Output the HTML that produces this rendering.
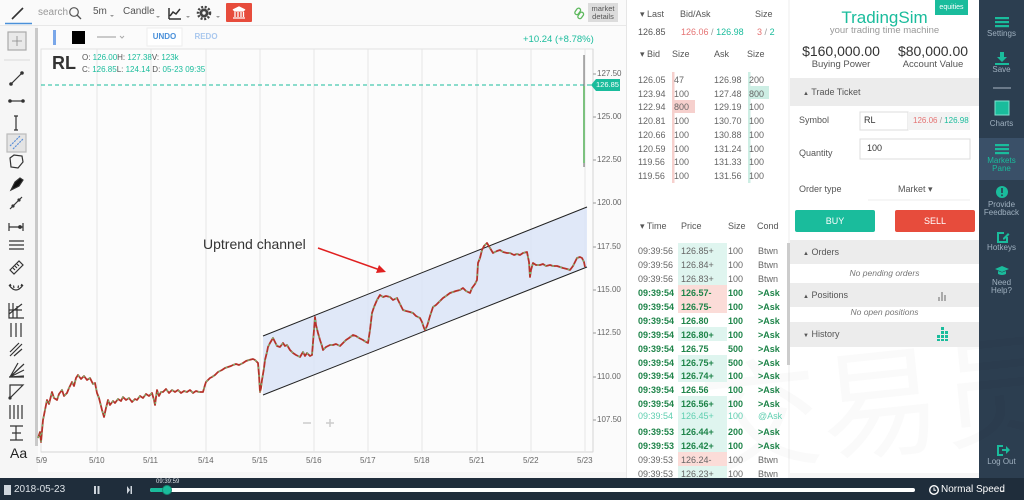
<!DOCTYPE html>
<html><head><meta charset="utf-8">
<style>
*{margin:0;padding:0;box-sizing:border-box}
html,body{width:1024px;height:500px;overflow:hidden;background:#f6f6f6;font-family:"Liberation Sans","Noto Sans CJK SC",sans-serif;color:#555}
.t{position:absolute;white-space:nowrap;line-height:1}
.f8{font-size:8px}.f9{font-size:9px}.f10{font-size:10px}
.g{color:#1abc9c}.r{color:#e57373}
.b{font-weight:bold}
.dg{color:#1e8449;font-weight:bold}
.gr{color:#666}
.lg{color:#5fcfb0}
.c{text-align:center}
.box{position:absolute}
.sb{color:#9fb0bf;font-size:8px}
.wrap{position:absolute;left:0;top:0;width:1024px;height:478px;overflow:hidden}
</style></head><body>

<!-- backgrounds -->
<div class="box" style="left:0;top:0;width:626px;height:26px;background:#fafafa;border-bottom:1px solid #e8e8e8"></div>
<div class="box" style="left:38px;top:26px;width:588px;height:446px;background:#fbfbfb"></div>
<div class="box" style="left:627px;top:0;width:161px;height:478px;background:#fff"></div>
<div class="box" style="left:790px;top:0;width:189px;height:473px;background:#fff"></div>
<div class="box" style="left:979px;top:0;width:45px;height:478px;background:#2c3e50"></div>
<div class="box" style="left:979px;top:138px;width:45px;height:42px;background:#3a5068"></div>
<div class="box" style="left:0;top:478px;width:1024px;height:22px;background:#1f2d3b"></div>

<!-- watermark -->
<div class="t" style="left:700px;top:340px;font-size:120px;color:rgba(0,0,0,0.018);transform:rotate(-6deg)">交易员说</div>

<svg class="box" style="left:0;top:0" width="1024" height="500" xmlns="http://www.w3.org/2000/svg">
 <!-- left gray scroll bar -->
 <rect x="35" y="28" width="3" height="418" fill="#c9c9c9"/>
 <!-- chart frame -->
 <rect x="41" y="49" width="552" height="403" fill="#fcfcfc" stroke="#e2e2e2"/>
 <line x1="593" y1="49" x2="593" y2="452" stroke="#d5d5d5"/>
 <line x1="41" y1="452" x2="593" y2="452" stroke="#d5d5d5"/>
 <!-- grid -->
 <g stroke="#e6e6e6" stroke-width="1">
  <line x1="97" y1="49" x2="97" y2="452"/><line x1="151" y1="49" x2="151" y2="452"/>
  <line x1="206" y1="49" x2="206" y2="452"/><line x1="260" y1="49" x2="260" y2="452"/>
  <line x1="314" y1="49" x2="314" y2="452"/><line x1="368" y1="49" x2="368" y2="452"/>
  <line x1="422" y1="49" x2="422" y2="452"/><line x1="477" y1="49" x2="477" y2="452"/>
  <line x1="531" y1="49" x2="531" y2="452"/><line x1="585" y1="49" x2="585" y2="452"/>
 </g>
 <!-- axis ticks -->
 <g stroke="#999"><line x1="593" y1="74" x2="596" y2="74"/><line x1="593" y1="117" x2="596" y2="117"/><line x1="593" y1="160" x2="596" y2="160"/><line x1="593" y1="203" x2="596" y2="203"/><line x1="593" y1="247" x2="596" y2="247"/><line x1="593" y1="290" x2="596" y2="290"/><line x1="593" y1="333" x2="596" y2="333"/><line x1="593" y1="377" x2="596" y2="377"/><line x1="593" y1="420" x2="596" y2="420"/></g>
 <!-- current price dashed -->
 <line x1="41" y1="85" x2="591" y2="85" stroke="#1abc9c" stroke-dasharray="4 3" stroke-width="1"/>
 <polygon points="591,85 596,79 620,79 620,91 596,91" fill="#1abc9c"/>
 <!-- channel -->
 <polygon points="263,336 587,207 587,267 263,395" fill="#dbe4f7" fill-opacity="0.85"/>
 <line x1="263" y1="336" x2="587" y2="207" stroke="#222" stroke-width="1"/>
 <line x1="263" y1="395" x2="587" y2="267" stroke="#222" stroke-width="1"/>
 <!-- price series -->
 <polyline fill="none" stroke="#b5332a" stroke-width="1.8" stroke-linejoin="round" points="38,438 40,432 41,442 43,420 45,410 47,400 49,404 52,392 54,398 57,400 59,394 62,390 64,396 67,393 69,388 72,382 74,386 76,378 78,375 81,379 84,376 87,380 90,378 93,384 95,383 97,393 99,398 100,402 102,410 104,417 106,408 108,400 110,405 113,401 115,403 118,399 121,401 123,397 126,400 129,398 132,402 135,399 137,400 140,396 143,398 146,394 149,396 152,393 154,400 155,405 157,390 159,396 161,392 163,392 166,389 169,393 172,390 175,392 178,390 181,393 184,391 187,392 190,390 193,393 196,391 199,392 203,392 205,385 206,382 208,380 210,378 212,377 215,375 218,372 222,370 225,368 228,367 231,366 233,365 236,364 239,365 243,363 246,361 249,360 253,359 255,360 258,363 259,375 260,392 261,388 262,380 264,368 265,360 267,352 268,347 270,343 273,338 275,342 277,346 280,347 283,343 285,346 287,345 290,350 293,353 296,355 298,356 300,357 303,352 305,356 307,353 310,356 312,355 314,330 315,317 316,325 318,333 320,340 322,346 323,350 326,347 330,345 333,345 336,344 340,346 343,343 346,340 349,338 353,335 356,336 359,338 363,340 366,342 368,343 370,330 372,313 374,307 377,300 380,295 383,297 386,296 390,297 393,300 397,298 400,304 403,310 406,311 410,312 413,313 416,316 420,318 422,322 424,328 425,330 427,326 428,323 430,316 433,307 436,305 440,301 443,298 446,296 450,293 453,292 456,291 460,290 463,288 466,291 470,293 472,288 475,284 477,280 478,263 480,258 482,250 484,246 487,243 490,248 493,253 497,251 500,250 503,252 507,253 510,253 514,255 517,254 520,255 523,253 527,252 529,262 530,277 531,270 533,263 536,265 540,265 543,264 546,266 550,265 553,266 557,266 560,267 563,268 567,269 570,270 573,266 575,262 577,258 580,257 582,258 584,262 585,267"/>
 <polyline fill="none" stroke="#6fbf73" stroke-width="1.2" stroke-dasharray="2 6" points="38,438 40,432 41,442 43,420 45,410 47,400 49,404 52,392 54,398 57,400 59,394 62,390 64,396 67,393 69,388 72,382 74,386 76,378 78,375 81,379 84,376 87,380 90,378 93,384 95,383 97,393 99,398 100,402 102,410 104,417 106,408 108,400 110,405 113,401 115,403 118,399 121,401 123,397 126,400 129,398 132,402 135,399 137,400 140,396 143,398 146,394 149,396 152,393 154,400 155,405 157,390 159,396 161,392 163,392 166,389 169,393 172,390 175,392 178,390 181,393 184,391 187,392 190,390 193,393 196,391 199,392 203,392 205,385 206,382 208,380 210,378 212,377 215,375 218,372 222,370 225,368 228,367 231,366 233,365 236,364 239,365 243,363 246,361 249,360 253,359 255,360 258,363 259,375 260,392 261,388 262,380 264,368 265,360 267,352 268,347 270,343 273,338 275,342 277,346 280,347 283,343 285,346 287,345 290,350 293,353 296,355 298,356 300,357 303,352 305,356 307,353 310,356 312,355 314,330 315,317 316,325 318,333 320,340 322,346 323,350 326,347 330,345 333,345 336,344 340,346 343,343 346,340 349,338 353,335 356,336 359,338 363,340 366,342 368,343 370,330 372,313 374,307 377,300 380,295 383,297 386,296 390,297 393,300 397,298 400,304 403,310 406,311 410,312 413,313 416,316 420,318 422,322 424,328 425,330 427,326 428,323 430,316 433,307 436,305 440,301 443,298 446,296 450,293 453,292 456,291 460,290 463,288 466,291 470,293 472,288 475,284 477,280 478,263 480,258 482,250 484,246 487,243 490,248 493,253 497,251 500,250 503,252 507,253 510,253 514,255 517,254 520,255 523,253 527,252 529,262 530,277 531,270 533,263 536,265 540,265 543,264 546,266 550,265 553,266 557,266 560,267 563,268 567,269 570,270 573,266 575,262 577,258 580,257 582,258 584,262 585,267"/>
 <!-- last big candle -->
 <line x1="584" y1="55" x2="584" y2="167" stroke="#666" stroke-width="1"/>
 <line x1="584" y1="86" x2="584" y2="163" stroke="#7cc27f" stroke-width="2"/>
 <!-- arrow -->
 <line x1="318" y1="248" x2="380" y2="270" stroke="#e02020" stroke-width="1.5"/>
 <polygon points="386,272 376,273 379,265" fill="#e02020"/>
 <!-- zoom controls -->
 <line x1="303" y1="423" x2="311" y2="423" stroke="#ccc" stroke-width="1.5"/>
 <line x1="326" y1="423" x2="334" y2="423" stroke="#ccc" stroke-width="1.5"/><line x1="330" y1="419" x2="330" y2="427" stroke="#ccc" stroke-width="1.5"/>

 <!-- top toolbar icons -->
 <line x1="12" y1="19" x2="23" y2="8" stroke="#333" stroke-width="1.6"/>
 <line x1="5" y1="23.5" x2="32" y2="23.5" stroke="#4a90d9" stroke-width="1.5"/>
 <circle cx="74" cy="12" r="4.3" fill="none" stroke="#555" stroke-width="1.2"/><line x1="77" y1="15" x2="81" y2="19" stroke="#555" stroke-width="1.3"/>
 <path d="M169 19 H181 M169 19 V8 M170 16 L173 12 L176 14 L180 9" fill="none" stroke="#333" stroke-width="1.5"/>
 <circle cx="204" cy="13" r="4.5" fill="#444"/><circle cx="204" cy="13" r="6" fill="none" stroke="#444" stroke-width="2.5" stroke-dasharray="2 1.6"/><circle cx="204" cy="13" r="1.7" fill="#fafafa"/>
 <g fill="#999"><path d="M110 15 l2 2 l2 -2z"/><path d="M156 16 l2 2 l2 -2z"/><path d="M186 16 l2 2 l2 -2z"/><path d="M216 16 l2 2 l2 -2z"/></g>
 <rect x="226" y="3" width="26" height="19" rx="1" fill="#e74c3c"/>
 <path d="M233 10 L239 7 L245 10 Z M234 11 h10 M235 12 v5 M238 12 v5 M241 12 v5 M243.5 12 v5 M233 18 h12" fill="#fff" stroke="#fff" stroke-width="1.3"/>
 <!-- link icons -->
 <g fill="none" stroke="#5cb85c" stroke-width="1.3">
  <rect x="576" y="8" width="4" height="7" rx="2" transform="rotate(35 578 11)"/><rect x="579" y="12" width="4" height="7" rx="2" transform="rotate(35 581 15)"/>
  <rect x="959" y="86" width="4" height="7" rx="2" transform="rotate(35 961 89)"/><rect x="962" y="90" width="4" height="7" rx="2" transform="rotate(35 964 93)"/>
  <rect x="959" y="247" width="4" height="7" rx="2" transform="rotate(35 961 250)"/><rect x="962" y="251" width="4" height="7" rx="2" transform="rotate(35 964 254)"/>
  <rect x="959" y="290" width="4" height="7" rx="2" transform="rotate(35 961 293)"/><rect x="962" y="294" width="4" height="7" rx="2" transform="rotate(35 964 297)"/>
 </g>
 <!-- chart header row -->
 <rect x="53" y="30" width="3" height="15" fill="#7aa7e9"/>
 <rect x="72" y="31" width="13" height="13" fill="#000"/>
 <line x1="97" y1="37" x2="116" y2="37" stroke="#999"/><path d="M120 36 l2 2 l2 -2" fill="none" stroke="#aaa"/>
 <rect x="147" y="28" width="35" height="18" fill="#fff" stroke="#eee"/>

 <!-- left toolbar -->
 <g stroke="#333" stroke-width="1.2" fill="none">
  <rect x="8" y="32" width="18" height="18" fill="#e9e9e9" stroke="#aaa"/>
  <path d="M17 36 V46 M12 41 H22" stroke="#888" stroke-width="0.8"/>
  <line x1="4" y1="60" x2="30" y2="60" stroke="#e0e0e0"/>
  <line x1="11" y1="84" x2="22" y2="73"/><circle cx="11" cy="84" r="1.2" fill="#333"/><circle cx="22" cy="73" r="1.2" fill="#333"/>
  <line x1="10" y1="101" x2="23" y2="101"/><circle cx="10" cy="101" r="1.2" fill="#333"/><circle cx="23" cy="101" r="1.2" fill="#333"/>
  <line x1="16" y1="116" x2="16" y2="130"/><path d="M14 116 h4 M14 130 h4"/>
  <rect x="7" y="134" width="19" height="18" fill="#e4e4e4" stroke="#bbb"/>
  <path d="M10 146 L20 136 M13 149 L23 139" stroke="#5a8fd8" stroke-dasharray="2 1"/>
  <path d="M10 158 L14 155 L22 156 L23 162 L18 168 L11 167 Z"/>
  <path d="M11 190 L15 182 L20 178 L23 180 L19 186 Z" fill="#111"/>
  <line x1="10" y1="209" x2="22" y2="197"/><circle cx="13" cy="206" r="1" fill="#333"/><circle cx="19" cy="200" r="1" fill="#333"/>
  <path d="M9 227 H23 M9 223 V231 M23 223 V231"/><circle cx="20" cy="227" r="1.3" fill="#333"/>
  <path d="M9 241 H24 M9 245 H24 M9 249 H24"/>
  <path d="M10 270 L19 261 L23 265 L14 274 Z M13 268 l2 2 M15 266 l2 2 M17 264 l2 2"/>
  <path d="M9 285 Q16 295 23 285 M11 286 l-1 -2 M14 288 l-0.5 -2.5 M18 288 l0.5 -2.5 M21 286 l1 -2"/>
  <path d="M9 303 V318 H24 M13 303 V318 M17 306 V318 M9 314 L22 304 M9 310 H22"/>
  <path d="M11 323 V337 M16 323 V337 M21 323 V337"/>
  <path d="M10 356 L22 344 M12 350 L19 343 M14 356 L22 349 M10 352 L16 346"/>
  <path d="M10 377 L24 364 M10 377 L24 370 M10 377 L24 376 M10 377 L18 363 M9 377 H24"/>
  <path d="M10 385 H23 L10 398 Z"/><circle cx="10" cy="398" r="1" fill="#333"/>
  <path d="M10 405 V419 M14 405 V419 M18 405 V419 M22 405 V419"/>
  <path d="M10 426 H23 M16 426 V440 M10 440 H23 M12 433 H21"/>
 </g>

 <!-- order book size bars -->
 <rect x="672" y="72" width="2.5" height="111" fill="#f6d0cd"/>
 <rect x="672" y="100" width="23" height="13" fill="#f6d0cd"/>
 <rect x="748" y="72" width="2.5" height="111" fill="#cdeee4"/>
 <rect x="748" y="86" width="21" height="13" fill="#cdeee4"/>
 <!-- scrollbar T&S -->
 <rect x="787" y="243" width="3" height="122" fill="#ccc"/>
 <rect x="626" y="0" width="1" height="478" fill="#e6e6e6"/>

 <!-- trading panel boxes -->
 <rect x="935" y="0" width="33" height="15" fill="#1abc9c"/>
 <rect x="790" y="78" width="189" height="28" fill="#ececec"/>
 <rect x="860" y="112" width="48" height="18" fill="#fff" stroke="#ddd"/>
 <rect x="908" y="112" width="62" height="18" fill="#f3f3f3"/>
 <rect x="860" y="139" width="110" height="20" fill="#fff" stroke="#ddd"/>
 <line x1="868" y1="200" x2="970" y2="200" stroke="#eee"/>
 <rect x="795" y="210" width="80" height="22" rx="2" fill="#1abc9c"/>
 <rect x="895" y="210" width="80" height="22" rx="2" fill="#e74c3c"/>
 <rect x="790" y="240" width="189" height="24" fill="#ececec"/>
 <rect x="790" y="283" width="189" height="24" fill="#ececec"/>
 <rect x="790" y="322" width="189" height="25" fill="#ececec"/>
 <g fill="#aaa"><rect x="938" y="297" width="2" height="4"/><rect x="941" y="292" width="2" height="9"/><rect x="944" y="295" width="2" height="6"/></g>
 <g fill="#1abc9c"><rect x="937" y="335" width="3" height="3"/><rect x="941" y="335" width="3" height="3"/><rect x="945" y="335" width="3" height="3"/><rect x="941" y="331" width="3" height="3"/><rect x="945" y="331" width="3" height="3"/><rect x="941" y="327" width="3" height="3"/><rect x="937" y="339" width="3" height="2"/><rect x="941" y="339" width="3" height="2"/><rect x="945" y="339" width="3" height="2"/></g>

 <!-- sidebar icons -->
 <g fill="#1abc9c">
  <rect x="995" y="17" width="14" height="2.2"/><rect x="995" y="21" width="14" height="2.2"/><rect x="995" y="25" width="14" height="2.2"/>
  <path d="M1000 52 h4 v5 h3 l-5 5 l-5 -5 h3 z"/><rect x="995" y="63" width="14" height="2"/>
  <rect x="995" y="101" width="14" height="14" fill="#1abc9c" stroke="#7fe3cf"/>
  <rect x="995" y="144" width="14" height="2.2"/><rect x="995" y="148" width="14" height="2.2"/><rect x="995" y="152" width="14" height="2.2"/>
  <circle cx="1002" cy="192" r="6"/>
  <path d="M997 232 h7 v2 h-5 v7 h7 v-4 h2 v6 h-11 z M1003 238 l5 -5 l1.5 1.5 l-5 5 h-1.5z"/>
  <path d="M995 269 l7 -3 l7 3 l-7 3 z M998 271 v3 q4 2 8 0 v-3 l-4 1.5 z"/>
  <path d="M997 445 h6 v2 h-4 v7 h4 v2 h-6 z M1002 449 h4 v-3 l4 4 l-4 4 v-3 h-4z"/>
 </g>
 <rect x="1001.2" y="188" width="1.6" height="5" fill="#2c3e50"/><rect x="1001.2" y="194.5" width="1.6" height="1.6" fill="#2c3e50"/>
 <line x1="993" y1="88" x2="1011" y2="88" stroke="#aab7c4" stroke-width="1"/>
</svg>

<!-- top bar texts -->
<div class="t f10" style="left:38px;top:8px;color:#999">search</div>
<div class="t f10" style="left:93px;top:7px;color:#555">5m</div>
<div class="t f10" style="left:123px;top:7px;color:#555">Candle</div>
<div class="box" style="left:588px;top:3px;width:30px;height:19px;background:#dcdcdc"></div>
<div class="t c" style="left:588px;top:5px;width:30px;font-size:7.5px;color:#555;line-height:8px">market<br>details</div>

<!-- chart header -->
<div class="t b" style="left:147px;top:33px;width:35px;text-align:center;font-size:8px;color:#4a90d9">UNDO</div>
<div class="t b" style="left:190px;top:33px;width:32px;text-align:center;font-size:8px;color:#aac8ee">REDO</div>
<div class="t" style="left:523px;top:35px;font-size:9.5px;color:#1abc9c">+10.24 (+8.78%)</div>

<!-- chart labels -->
<div class="t b" style="left:52px;top:54px;font-size:18px;color:#333">RL</div>
<div class="t f8" style="left:82px;top:54px;color:#555">O: <span class="g">126.00</span>H: <span class="g">127.38</span>V: <span class="g">123k</span></div>
<div class="t f8" style="left:82px;top:66px;color:#555">C: <span class="g">126.85</span>L: <span class="g">124.14</span> D: <span class="g">05-23 09:35</span></div>
<div class="t" style="left:203px;top:237px;font-size:14px;color:#333">Uptrend channel</div>

<!-- price axis -->
<div class="t f8" style="left:597px;top:70px;color:#666">127.50</div>
<div class="t" style="left:596px;top:81px;color:#fff;font-size:7.5px">126.85</div>
<div class="t f8" style="left:597px;top:113px;color:#666">125.00</div>
<div class="t f8" style="left:597px;top:156px;color:#666">122.50</div>
<div class="t f8" style="left:597px;top:199px;color:#666">120.00</div>
<div class="t f8" style="left:597px;top:243px;color:#666">117.50</div>
<div class="t f8" style="left:597px;top:286px;color:#666">115.00</div>
<div class="t f8" style="left:597px;top:329px;color:#666">112.50</div>
<div class="t f8" style="left:597px;top:373px;color:#666">110.00</div>
<div class="t f8" style="left:597px;top:416px;color:#666">107.50</div>

<!-- date axis -->
<div class="t f8" style="left:36px;top:457px;color:#666">5/9</div>
<div class="t f8" style="left:89px;top:457px;color:#666">5/10</div>
<div class="t f8" style="left:143px;top:457px;color:#666">5/11</div>
<div class="t f8" style="left:198px;top:457px;color:#666">5/14</div>
<div class="t f8" style="left:252px;top:457px;color:#666">5/15</div>
<div class="t f8" style="left:306px;top:457px;color:#666">5/16</div>
<div class="t f8" style="left:360px;top:457px;color:#666">5/17</div>
<div class="t f8" style="left:414px;top:457px;color:#666">5/18</div>
<div class="t f8" style="left:469px;top:457px;color:#666">5/21</div>
<div class="t f8" style="left:523px;top:457px;color:#666">5/22</div>
<div class="t f8" style="left:577px;top:457px;color:#666">5/23</div>

<div class="t" style="left:10px;top:446px;font-size:14px;color:#222">Aa</div>

<!-- market data -->
<div class="t f9" style="left:640px;top:10px;color:#555">▾ Last</div>
<div class="t f9" style="left:680px;top:10px;color:#555">Bid/Ask</div>
<div class="t f9" style="left:755px;top:10px;color:#555">Size</div>
<div class="t f9" style="left:638px;top:28px;color:#555">126.85</div>
<div class="t f9" style="left:681px;top:28px"><span class="r">126.06</span> <span style="color:#999">/</span> <span class="g">126.98</span></div>
<div class="t f9" style="left:757px;top:28px"><span class="r">3</span> <span style="color:#999">/</span> <span class="g">2</span></div>
<div class="t f9" style="left:640px;top:50px;color:#555">▾ Bid</div>
<div class="t f9" style="left:672px;top:50px;color:#555">Size</div>
<div class="t f9" style="left:714px;top:50px;color:#555">Ask</div>
<div class="t f9" style="left:747px;top:50px;color:#555">Size</div>

<div class="t f9 gr" style="left:638px;top:74px;line-height:13.7px">126.05<br>123.94<br>122.94<br>120.81<br>120.66<br>120.59<br>119.56<br>119.56</div>
<div class="t f9 gr" style="left:674px;top:74px;line-height:13.7px">47<br>100<br>800<br>100<br>100<br>100<br>100<br>100</div>
<div class="t f9 gr" style="left:714px;top:74px;line-height:13.7px">126.98<br>127.48<br>129.19<br>130.70<br>130.88<br>131.24<br>131.33<br>131.56</div>
<div class="t f9 gr" style="left:749px;top:74px;line-height:13.7px">200<br>800<br>100<br>100<br>100<br>100<br>100<br>100</div>

<div class="t f9" style="left:640px;top:222px;color:#555">▾ Time</div>
<div class="t f9" style="left:681px;top:222px;color:#555">Price</div>
<div class="t f9" style="left:728px;top:222px;color:#555">Size</div>
<div class="t f9" style="left:757px;top:222px;color:#555">Cond</div>

<div class="wrap">
<!-- T&S price backgrounds -->
<div class="box" style="left:678px;top:243px;width:49px;height:42px;background:#dff5ef"></div>
<div class="box" style="left:678px;top:285px;width:49px;height:28px;background:#fbdcd8"></div>
<div class="box" style="left:678px;top:327px;width:49px;height:14px;background:#dff5ef"></div>
<div class="box" style="left:678px;top:355px;width:49px;height:27px;background:#dff5ef"></div>
<div class="box" style="left:678px;top:396px;width:49px;height:56px;background:#dff5ef"></div>
<div class="box" style="left:678px;top:452px;width:49px;height:14px;background:#fbdcd8"></div>
<div class="box" style="left:678px;top:466px;width:49px;height:14px;background:#dff5ef"></div>

<div class="t f9 gr" style="left:638px;top:245px;line-height:13.9px">09:39:56<br>09:39:56<br>09:39:56</div>
<div class="t f9 gr" style="left:681px;top:245px;line-height:13.9px">126.85+<br>126.84+<br>126.83+</div>
<div class="t f9 gr" style="left:728px;top:245px;line-height:13.9px">100<br>100<br>100</div>
<div class="t f9 gr" style="left:758px;top:245px;line-height:13.9px">Btwn<br>Btwn<br>Btwn</div>

<div class="t f9 dg" style="left:638px;top:287px;line-height:13.9px">09:39:54<br>09:39:54<br>09:39:54<br>09:39:54<br>09:39:54<br>09:39:54<br>09:39:54<br>09:39:54<br>09:39:54</div>
<div class="t f9 dg" style="left:681px;top:287px;line-height:13.9px">126.57-<br>126.75-<br>126.80<br>126.80+<br>126.75<br>126.75+<br>126.74+<br>126.56<br>126.56+</div>
<div class="t f9 dg" style="left:728px;top:287px;line-height:13.9px">100<br>100<br>100<br>100<br>500<br>500<br>100<br>100<br>100</div>
<div class="t f9 dg" style="left:758px;top:287px;line-height:13.9px">&gt;Ask<br>&gt;Ask<br>&gt;Ask<br>&gt;Ask<br>&gt;Ask<br>&gt;Ask<br>&gt;Ask<br>&gt;Ask<br>&gt;Ask</div>

<div class="t f9 lg" style="left:638px;top:412px">09:39:54</div>
<div class="t f9 lg" style="left:681px;top:412px">126.45+</div>
<div class="t f9 lg" style="left:728px;top:412px">100</div>
<div class="t f9 lg" style="left:758px;top:412px">@Ask</div>

<div class="t f9 dg" style="left:638px;top:426px;line-height:13.9px">09:39:53<br>09:39:53</div>
<div class="t f9 dg" style="left:681px;top:426px;line-height:13.9px">126.44+<br>126.42+</div>
<div class="t f9 dg" style="left:728px;top:426px;line-height:13.9px">200<br>100</div>
<div class="t f9 dg" style="left:758px;top:426px;line-height:13.9px">&gt;Ask<br>&gt;Ask</div>

<div class="t f9 gr" style="left:638px;top:454px;line-height:13.9px">09:39:53<br>09:39:53</div>
<div class="t f9 gr" style="left:681px;top:454px;line-height:13.9px">126.24-<br>126.23+</div>
<div class="t f9 gr" style="left:728px;top:454px;line-height:13.9px">100<br>100</div>
<div class="t f9 gr" style="left:758px;top:454px;line-height:13.9px">Btwn<br>Btwn</div>
</div>

<!-- trading panel text -->
<div class="t" style="left:935px;top:4px;width:33px;text-align:center;font-size:7px;color:#fff">equities</div>
<div class="t c" style="left:790px;top:9px;width:189px;font-size:17px;color:#1abc9c">TradingSim</div>
<div class="t c" style="left:790px;top:26px;width:189px;font-size:9.5px;color:#999">your trading time machine</div>
<div class="t c" style="left:796px;top:44px;width:90px;font-size:14px;color:#333">$160,000.00</div>
<div class="t c" style="left:796px;top:60px;width:90px;font-size:9.5px;color:#555">Buying Power</div>
<div class="t c" style="left:888px;top:44px;width:90px;font-size:14px;color:#333">$80,000.00</div>
<div class="t c" style="left:888px;top:60px;width:90px;font-size:9.5px;color:#555">Account Value</div>
<div class="t f9" style="left:803px;top:88px;color:#555"><span style="font-size:6px">▲</span> Trade Ticket</div>
<div class="t f9" style="left:799px;top:116px;color:#555">Symbol</div>
<div class="t f9" style="left:864px;top:116px;color:#333">RL</div>
<div class="t" style="left:913px;top:117px;font-size:8px"><span class="r">126.06</span> <span style="color:#999">/</span> <span class="g">126.98</span></div>
<div class="t f9" style="left:799px;top:149px;color:#555">Quantity</div>
<div class="t f9" style="left:867px;top:144px;color:#333">100</div>
<div class="t f9" style="left:799px;top:185px;color:#555">Order type</div>
<div class="t f9" style="left:898px;top:185px;color:#555">Market ▾</div>
<div class="t c f9" style="left:795px;top:217px;width:80px;color:#fff">BUY</div>
<div class="t c f9" style="left:895px;top:217px;width:80px;color:#fff">SELL</div>
<div class="t f9" style="left:803px;top:248px;color:#555"><span style="font-size:6px">▲</span> Orders</div>
<div class="t c" style="left:790px;top:269px;width:189px;font-size:8.5px;font-style:italic;color:#777">No pending orders</div>
<div class="t f9" style="left:803px;top:291px;color:#555"><span style="font-size:6px">▲</span> Positions</div>
<div class="t c" style="left:790px;top:308px;width:189px;font-size:8.5px;font-style:italic;color:#777">No open positions</div>
<div class="t f9" style="left:803px;top:330px;color:#555"><span style="font-size:6px">▼</span> History</div>

<!-- sidebar text -->
<div class="t c sb" style="left:979px;top:30px;width:45px">Settings</div>
<div class="t c sb" style="left:979px;top:66px;width:45px">Save</div>
<div class="t c sb" style="left:979px;top:120px;width:45px">Charts</div>
<div class="t c sb" style="left:979px;top:157px;width:45px;color:#1abc9c;line-height:8px">Markets<br>Pane</div>
<div class="t c sb" style="left:979px;top:201px;width:45px;line-height:8px">Provide<br>Feedback</div>
<div class="t c sb" style="left:979px;top:244px;width:45px">Hotkeys</div>
<div class="t c sb" style="left:979px;top:279px;width:45px;line-height:8px">Need<br>Help?</div>
<div class="t c sb" style="left:979px;top:458px;width:45px">Log Out</div>

<!-- bottom bar -->
<svg class="box" style="left:0;top:478px" width="1024" height="22" xmlns="http://www.w3.org/2000/svg">
 <rect x="0" y="0" width="1024" height="22" fill="#1f2d3b"/>
 <rect x="4" y="7" width="7" height="10" fill="#cfd6dd"/>
 <rect x="94" y="8" width="2" height="8" fill="#cfd6dd"/><rect x="97.5" y="8" width="2" height="8" fill="#cfd6dd"/>
 <path d="M127 8 l3 4 l-3 4z" fill="#cfd6dd"/><rect x="130.5" y="8" width="1.5" height="8" fill="#cfd6dd"/>
 <rect x="150" y="10" width="765" height="4" rx="2" fill="#fff"/>
 <rect x="150" y="10" width="17" height="4" rx="2" fill="#1abc9c"/>
 <circle cx="167" cy="12" r="4.5" fill="#1abc9c" stroke="#138d75"/>
 <circle cx="934" cy="12" r="4.3" fill="none" stroke="#fff" stroke-width="1.4"/><path d="M934 9.5 v2.7 h2" stroke="#fff" fill="none" stroke-width="1"/>
 <path d="M1000 14 l2 -2 l2 2z" fill="#aaa"/>
</svg>
<div class="t" style="left:14px;top:485px;font-size:10px;color:#dde3e8">2018-05-23</div>
<div class="t" style="left:156px;top:479px;font-size:6px;color:#dde3e8">09:39:59</div>
<div class="t" style="left:941px;top:485px;font-size:10px;color:#fff">Normal Speed</div>
</body></html>
